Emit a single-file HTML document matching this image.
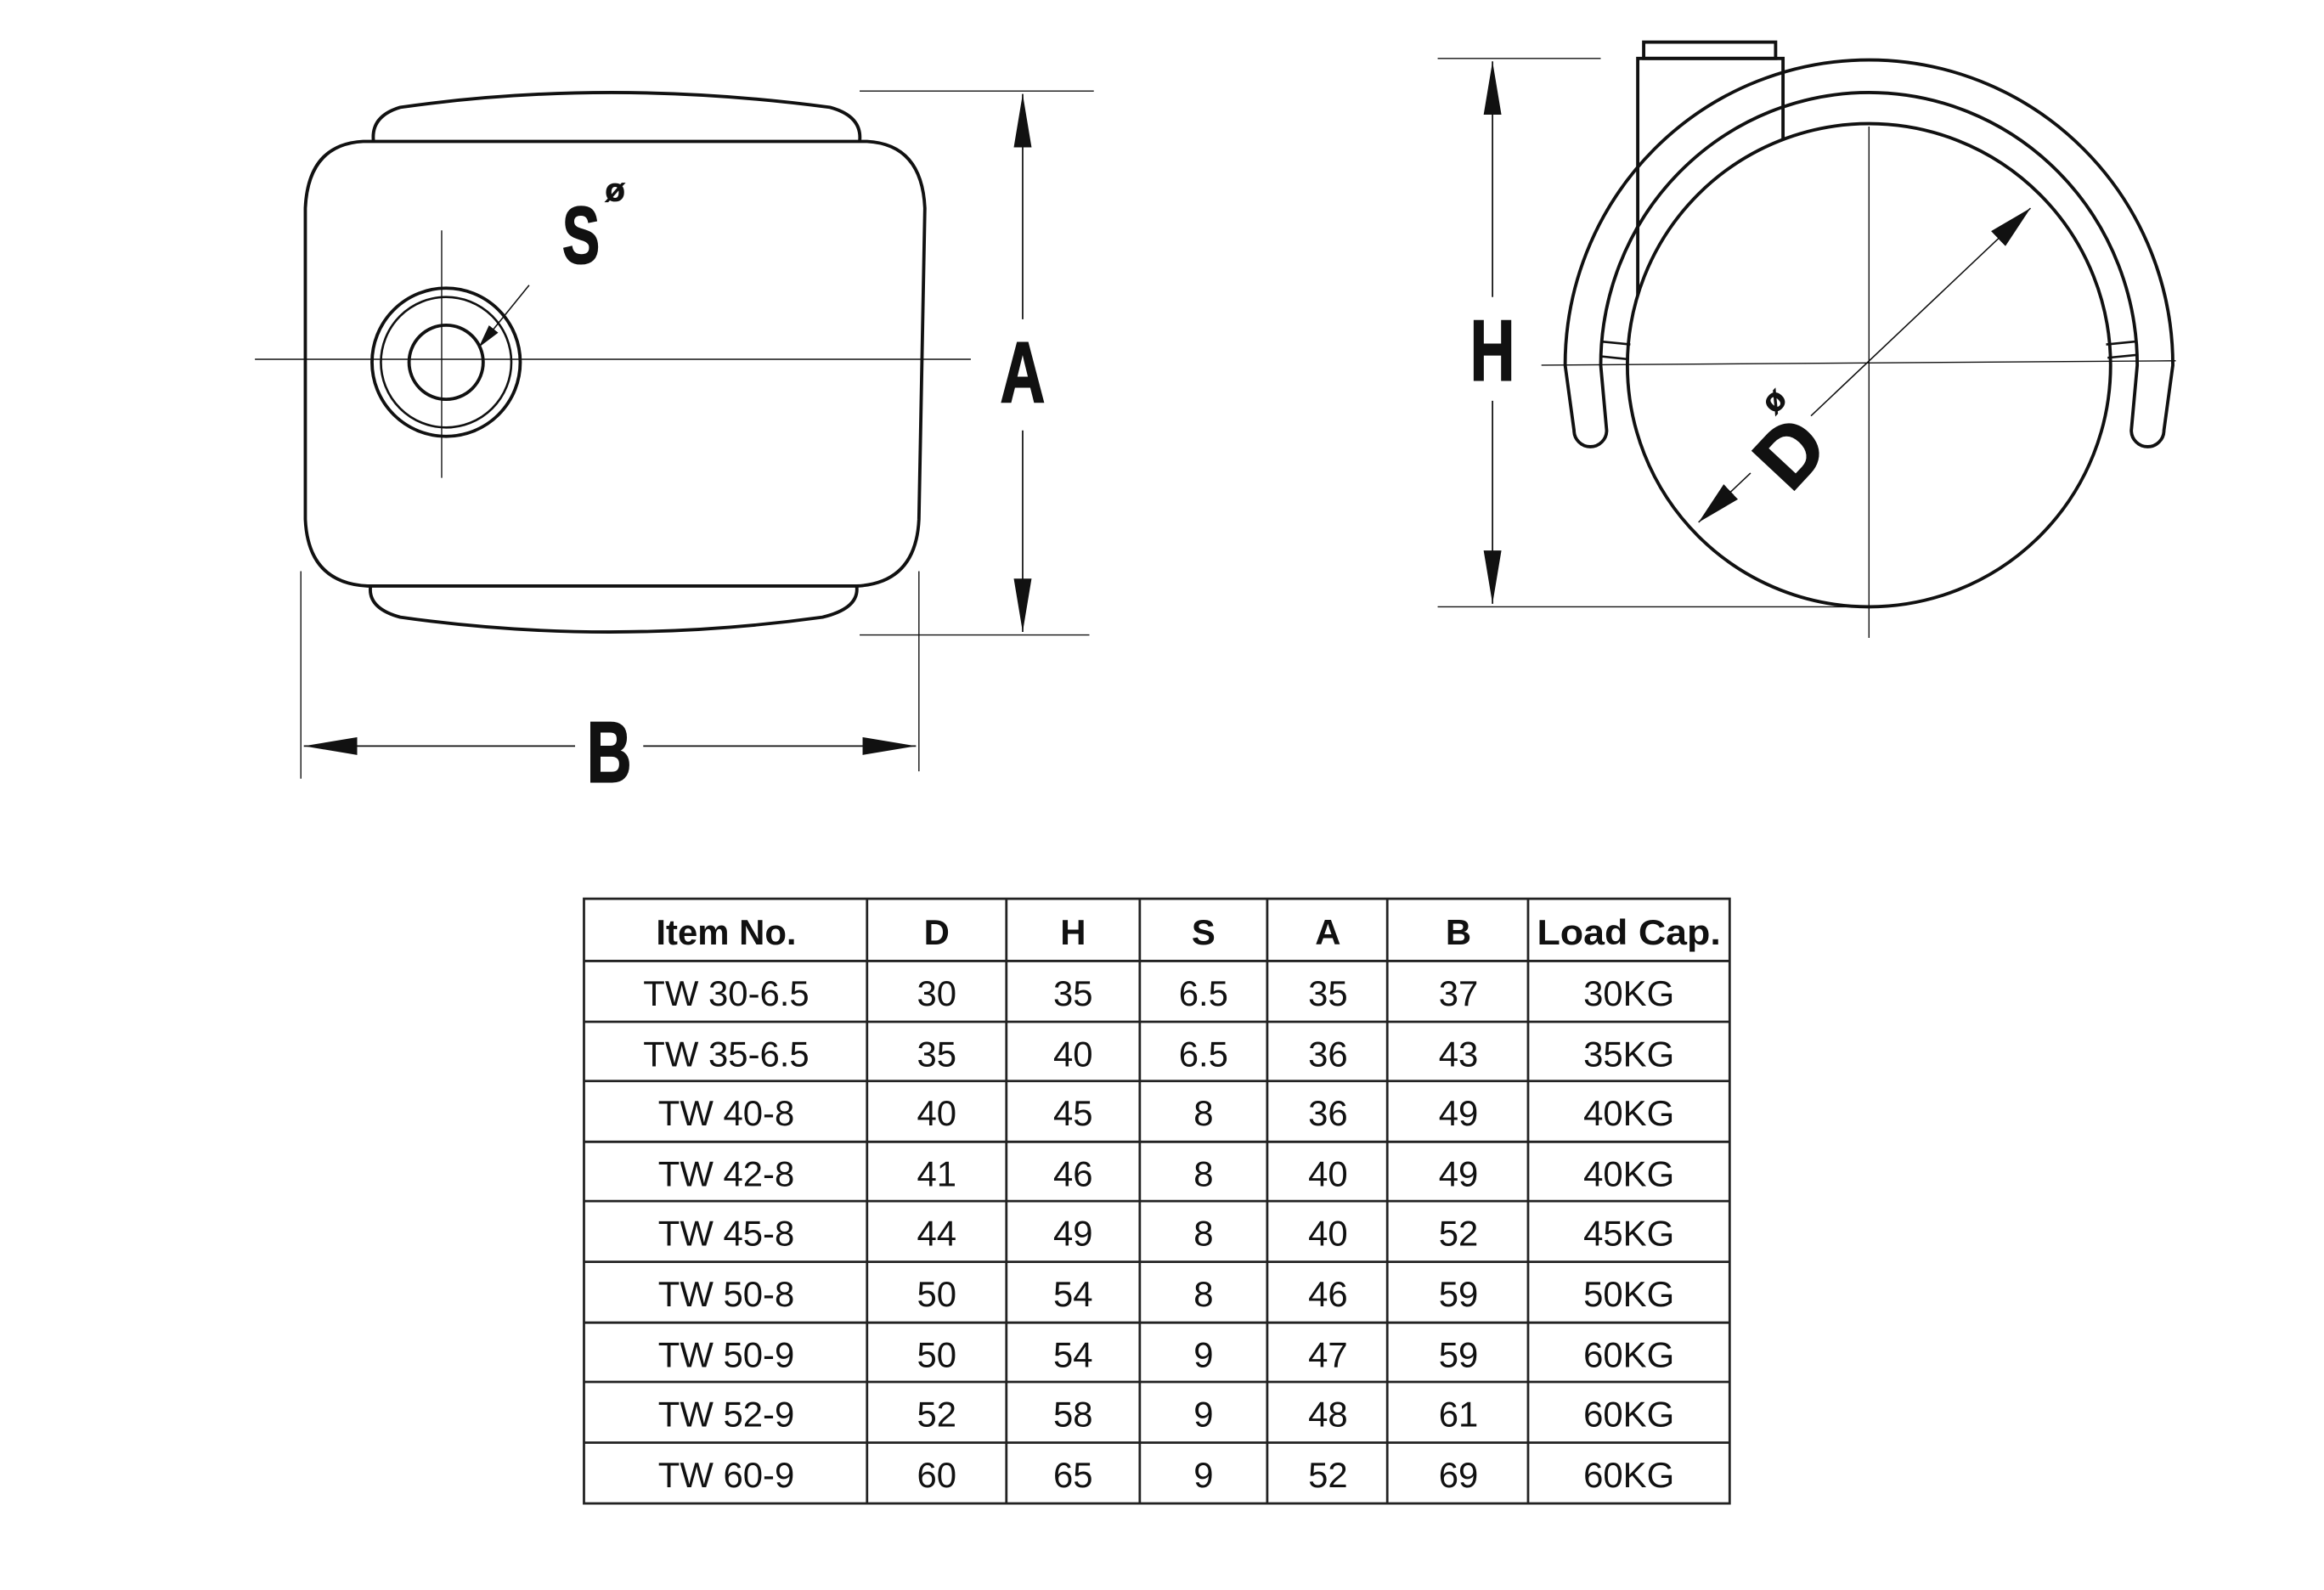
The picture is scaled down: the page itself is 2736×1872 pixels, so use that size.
<!DOCTYPE html>
<html><head><meta charset="utf-8"><style>
html,body{margin:0;padding:0;background:#fff;}
svg{display:block;}
.t{font-family:"Liberation Sans",sans-serif;font-size:24px;fill:#111;text-anchor:middle;}
.h{font-weight:bold;}
.big{font-family:"Liberation Sans",sans-serif;font-weight:bold;fill:#111;text-anchor:middle;stroke:#111;stroke-width:1.2;}
</style></head><body>
<svg width="2736" height="1872" viewBox="0 0 1568 1072" xmlns="http://www.w3.org/2000/svg">
<defs>
<marker id="ar" viewBox="0 0 36 12" refX="36" refY="6" markerWidth="36" markerHeight="12" markerUnits="userSpaceOnUse" orient="auto-start-reverse">
<path d="M0,0 L36,6 L0,12 z" fill="#111"/></marker>
<marker id="ar2" viewBox="0 0 30 14" refX="30" refY="7" markerWidth="30" markerHeight="14" markerUnits="userSpaceOnUse" orient="auto-start-reverse">
<path d="M0,0 L30,7 L0,14 z" fill="#111"/></marker>
<marker id="ar3" viewBox="0 0 16 8" refX="16" refY="4" markerWidth="16" markerHeight="8" markerUnits="userSpaceOnUse" orient="auto">
<path d="M0,0 L16,4 L0,8 z" fill="#111"/></marker>
</defs>
<rect width="1568" height="1072" fill="#fff"/>
<g fill="none" stroke="#111" stroke-width="2.2">
<path d="M245,95 L585,95 Q622,97 624,140 L620,350 Q618,393 578,395 L248,395 Q208,393 206,350 L206,140 Q208,97 245,95 Z"/>
<path d="M252,95 Q250,78 270,72 Q410,52 560,72 Q582,78 580,95"/>
<path d="M250,395 Q248,410 270,416 Q410,436 555,416 Q580,410 578,395"/>
<circle cx="301" cy="244" r="50"/>
<circle cx="301" cy="244" r="44" stroke-width="1.5"/>
<circle cx="301" cy="244" r="25"/>
</g>
<g stroke="#111" stroke-width="0.8" fill="none">
<line x1="172" y1="242" x2="655" y2="242"/>
<line x1="298" y1="155" x2="298" y2="322"/>
<line x1="580" y1="61" x2="738" y2="61"/>
<line x1="580" y1="428" x2="735" y2="428"/>
<line x1="203" y1="385" x2="203" y2="525"/>
<line x1="620" y1="385" x2="620" y2="520"/>
</g>
<line x1="357" y1="192" x2="323" y2="234" stroke="#111" stroke-width="0.9" marker-end="url(#ar3)"/>
<line x1="690" y1="63" x2="690" y2="426" stroke="#111" stroke-width="1" marker-start="url(#ar)" marker-end="url(#ar)"/>
<rect x="670" y="215" width="40" height="75" fill="#fff"/>
<line x1="205" y1="503" x2="618" y2="503" stroke="#111" stroke-width="1" marker-start="url(#ar)" marker-end="url(#ar)"/>
<rect x="388" y="480" width="46" height="45" fill="#fff"/>
<text class="big" x="690" y="271" font-size="58" transform="translate(690 271) scale(0.72 1) translate(-690 -271)">A</text>
<text class="big" x="411" y="527" font-size="58" transform="translate(411 527) scale(0.72 1) translate(-411 -527)">B</text>
<text class="big" x="392" y="177" font-size="54" transform="translate(392 177) scale(0.7 1) translate(-392 -177)">S</text>
<text class="big" x="415" y="135" font-size="22" style="stroke-width:0.5">ø</text>

<!-- right view -->
<g fill="none" stroke="#111" stroke-width="2.2">
<rect x="1109" y="28" width="89" height="11"/>
<path d="M1105,246 L1105,39 L1203,39 L1203,100"/>
<path d="M1062,290 L1056,246 A205,206 0 0 1 1261,40 A205,206 0 0 1 1466,246 L1460,290 A11,11 0 0 1 1438,290 L1442,246 A181,184 0 0 0 1261,62 A181,184 0 0 0 1080,246 L1084,290 A11,11 0 0 1 1062,290 Z"/>
<circle cx="1261" cy="246" r="163" fill="#fff"/>
<path d="M1080,230 L1100,232 M1080,240 L1099,242" stroke-width="1.5"/>
<path d="M1421,232 L1441,230 M1422,241 L1442,239" stroke-width="1.5"/>
</g>
<g stroke="#111" stroke-width="0.8" fill="none">
<line x1="1040" y1="246" x2="1468" y2="243"/>
<line x1="1261" y1="85" x2="1261" y2="430"/>
<line x1="970" y1="39" x2="1080" y2="39"/>
<line x1="970" y1="409" x2="1262" y2="409"/>
</g>
<line x1="1007" y1="41" x2="1007" y2="407" stroke="#111" stroke-width="1" marker-start="url(#ar)" marker-end="url(#ar)"/>
<rect x="985" y="200" width="44" height="70" fill="#fff"/>
<text class="big" x="1007" y="256" font-size="58" transform="translate(1007 256) scale(0.72 1) translate(-1007 -256)">H</text>
<line x1="1146" y1="352" x2="1370" y2="140" stroke="#111" stroke-width="0.9" marker-start="url(#ar2)" marker-end="url(#ar2)"/>
<rect x="1175" y="265" width="56" height="70" fill="#fff" transform="rotate(-47 1205 300)"/>
<text class="big" x="1208" y="324" font-size="56" transform="rotate(-47 1208 305)">D</text>
<text class="big" x="1197" y="277" font-size="22" style="stroke-width:0.5" transform="rotate(-47 1197 270)">ø</text>

<!-- table -->
<g stroke="#222" stroke-width="1.6" fill="none">
<rect x="394" y="606" width="773" height="408"/>
<line x1="585" y1="606" x2="585" y2="1014"/>
<line x1="679" y1="606" x2="679" y2="1014"/>
<line x1="769" y1="606" x2="769" y2="1014"/>
<line x1="855" y1="606" x2="855" y2="1014"/>
<line x1="936" y1="606" x2="936" y2="1014"/>
<line x1="1031" y1="606" x2="1031" y2="1014"/>
<line x1="394" y1="648" x2="1167" y2="648"/>
<line x1="394" y1="689" x2="1167" y2="689"/>
<line x1="394" y1="729" x2="1167" y2="729"/>
<line x1="394" y1="770" x2="1167" y2="770"/>
<line x1="394" y1="810" x2="1167" y2="810"/>
<line x1="394" y1="851" x2="1167" y2="851"/>
<line x1="394" y1="892" x2="1167" y2="892"/>
<line x1="394" y1="932" x2="1167" y2="932"/>
<line x1="394" y1="973" x2="1167" y2="973"/>
</g>
<g class="t h">
<text x="490" y="637">Item No.</text><text x="632" y="637">D</text><text x="724" y="637">H</text><text x="812" y="637">S</text><text x="896" y="637">A</text><text x="984" y="637">B</text><text x="1099" y="637" textLength="124" lengthAdjust="spacingAndGlyphs">Load Cap.</text>
</g>
<g class="t">
<text x="490" y="678">TW 30-6.5</text><text x="632" y="678">30</text><text x="724" y="678">35</text><text x="812" y="678">6.5</text><text x="896" y="678">35</text><text x="984" y="678">37</text><text x="1099" y="678">30KG</text>
<text x="490" y="719">TW 35-6.5</text><text x="632" y="719">35</text><text x="724" y="719">40</text><text x="812" y="719">6.5</text><text x="896" y="719">36</text><text x="984" y="719">43</text><text x="1099" y="719">35KG</text>
<text x="490" y="759">TW 40-8</text><text x="632" y="759">40</text><text x="724" y="759">45</text><text x="812" y="759">8</text><text x="896" y="759">36</text><text x="984" y="759">49</text><text x="1099" y="759">40KG</text>
<text x="490" y="800">TW 42-8</text><text x="632" y="800">41</text><text x="724" y="800">46</text><text x="812" y="800">8</text><text x="896" y="800">40</text><text x="984" y="800">49</text><text x="1099" y="800">40KG</text>
<text x="490" y="840">TW 45-8</text><text x="632" y="840">44</text><text x="724" y="840">49</text><text x="812" y="840">8</text><text x="896" y="840">40</text><text x="984" y="840">52</text><text x="1099" y="840">45KG</text>
<text x="490" y="881">TW 50-8</text><text x="632" y="881">50</text><text x="724" y="881">54</text><text x="812" y="881">8</text><text x="896" y="881">46</text><text x="984" y="881">59</text><text x="1099" y="881">50KG</text>
<text x="490" y="922">TW 50-9</text><text x="632" y="922">50</text><text x="724" y="922">54</text><text x="812" y="922">9</text><text x="896" y="922">47</text><text x="984" y="922">59</text><text x="1099" y="922">60KG</text>
<text x="490" y="962">TW 52-9</text><text x="632" y="962">52</text><text x="724" y="962">58</text><text x="812" y="962">9</text><text x="896" y="962">48</text><text x="984" y="962">61</text><text x="1099" y="962">60KG</text>
<text x="490" y="1003">TW 60-9</text><text x="632" y="1003">60</text><text x="724" y="1003">65</text><text x="812" y="1003">9</text><text x="896" y="1003">52</text><text x="984" y="1003">69</text><text x="1099" y="1003">60KG</text>
</g>
</svg>
</body></html>
